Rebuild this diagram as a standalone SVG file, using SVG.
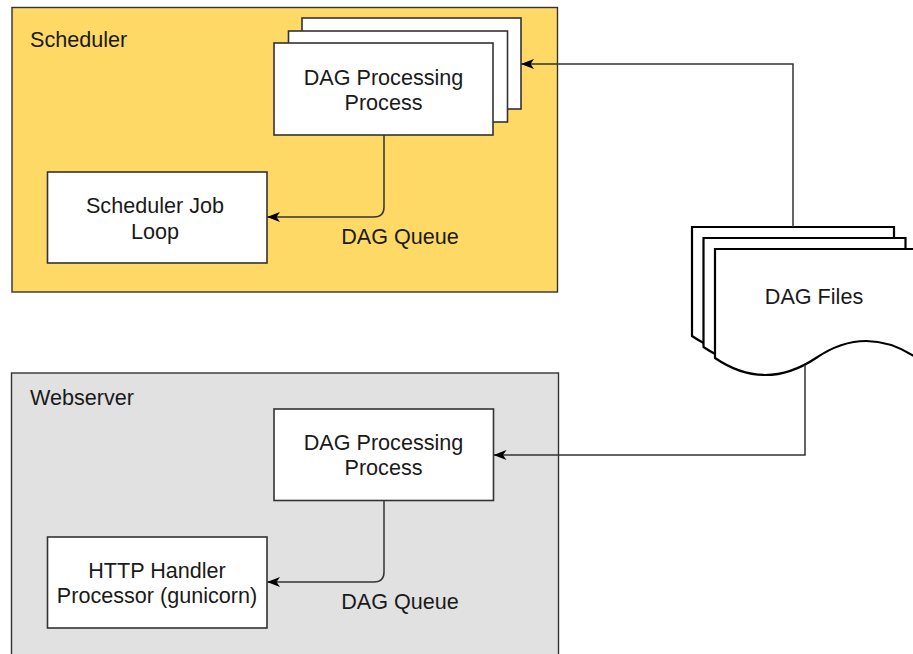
<svg xmlns="http://www.w3.org/2000/svg" xmlns:xlink="http://www.w3.org/1999/xlink" width="913" height="654" viewBox="0 0 913 654">
  <style>
    .container-scheduler { fill: #ffd966; stroke: #333333; stroke-width: 1.4; }
    .container-webserver { fill: #e1e1e1; stroke: #333333; stroke-width: 1.4; }
    .box { fill: #ffffff; stroke: #333333; stroke-width: 1.6; }
    .doc { fill: #ffffff; stroke: #000000; stroke-width: 2.2; stroke-linejoin: miter; }
    .edge { fill: none; stroke: #333333; stroke-width: 1.5; }
    text { font-family: "Liberation Sans", Arial, Helvetica, sans-serif; font-size: 21.6px; fill: #1a1a1a; }
    .mid { text-anchor: middle; }
  </style>
  <defs>
    <marker id="arrow" viewBox="0 0 14 11" refX="13" refY="5.5" markerWidth="14" markerHeight="11" markerUnits="userSpaceOnUse" orient="auto">
      <path d="M0.5,0.5 L13.5,5.5 L0.5,10.5 L4,5.5 Z" fill="#000000"/>
    </marker>
    <!-- single document sheet with a wavy bottom edge -->
    <path id="sheet" d="M0,0 H202 V109 Q151,75 101,109 Q50,143 0,109 Z"/>
  </defs>

  <!-- Scheduler container -->
  <g id="scheduler">
    <rect class="container-scheduler" x="12" y="7.5" width="545.5" height="284.5"/>
    <text x="30" y="47">Scheduler</text>
  </g>

  <!-- Webserver container -->
  <g id="webserver">
    <rect class="container-webserver" x="11.5" y="373" width="547" height="300"/>
    <text x="30" y="405">Webserver</text>
  </g>

  <!-- Stacked DAG processing processes in the scheduler -->
  <g id="scheduler-dag-processing">
    <rect class="box" x="302" y="18" width="219" height="91"/>
    <rect class="box" x="288.5" y="31" width="219" height="91"/>
    <rect class="box" x="274" y="43" width="219" height="92"/>
    <text class="mid" x="383.5" y="85">DAG Processing</text>
    <text class="mid" x="383.5" y="110">Process</text>
  </g>

  <g id="scheduler-job-loop">
    <rect class="box" x="47.5" y="172" width="219.5" height="91"/>
    <text class="mid" x="155" y="213">Scheduler Job</text>
    <text class="mid" x="155" y="239">Loop</text>
  </g>

  <g id="webserver-dag-processing">
    <rect class="box" x="274" y="409" width="219.5" height="91.5"/>
    <text class="mid" x="383.5" y="450">DAG Processing</text>
    <text class="mid" x="383.5" y="475">Process</text>
  </g>

  <g id="http-handler">
    <rect class="box" x="47.5" y="537" width="219.5" height="91"/>
    <text class="mid" x="157" y="578">HTTP Handler</text>
    <text class="mid" x="157" y="603">Processor (gunicorn)</text>
  </g>

  <!-- DAG files: three stacked documents -->
  <g id="dag-files">
    <use xlink:href="#sheet" href="#sheet" class="doc" transform="translate(692,227)"/>
    <use xlink:href="#sheet" href="#sheet" class="doc" transform="translate(703.5,238)"/>
    <use xlink:href="#sheet" href="#sheet" class="doc" transform="translate(715,249)"/>
    <text class="mid" x="814" y="304">DAG Files</text>
  </g>

  <!-- Connectors -->
  <g id="connectors">
    <path class="edge" d="M793,227 V64 H521.5" marker-end="url(#arrow)"/>
    <path class="edge" d="M805,365 V455 H494" marker-end="url(#arrow)"/>
    <path class="edge" d="M384,135 V207 Q384,217 374,217 H267.5" marker-end="url(#arrow)"/>
    <path class="edge" d="M384,500.5 V572 Q384,582 374,582 H267.5" marker-end="url(#arrow)"/>
    <text class="mid" x="400" y="244">DAG Queue</text>
    <text class="mid" x="400" y="609">DAG Queue</text>
  </g>
</svg>
